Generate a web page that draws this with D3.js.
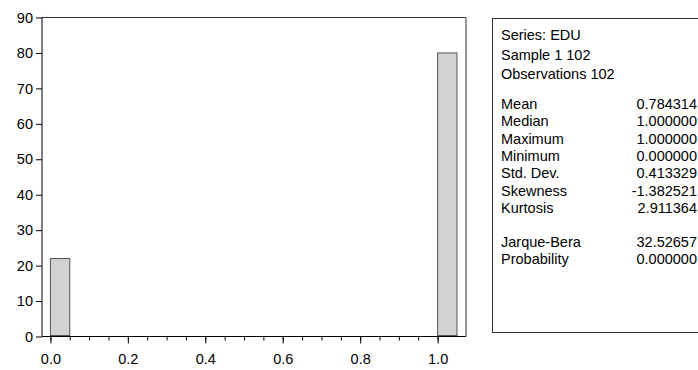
<!doctype html>
<html lang="en">

<head>
    <meta charset="UTF-8" />
    <script src="https://d3js.org/d3.v7.min.js"></script>
    <title>Histogram EDU</title>
    <style>
        body { margin: 0; background: #fff; }
        text { font-family: "Liberation Sans", Arial, sans-serif; }
    </style>
</head>

<body>
    <div id="chart"></div>
    <script type="module">
        // Histogram bins (left edge, right edge, count)
        const binStarts = [0.0, 1.0]
        const binWidth = 0.05
        const binCounts = [22, 80]

        const yTicks = [0, 10, 20, 30, 40, 50, 60, 70, 80, 90]
        const xMajorTicks = [0.0, 0.2, 0.4, 0.6, 0.8, 1.0]
        const xMinorTicks = d3.range(0, 21).map(i => i * 0.05)

        // Stats panel
        const headerLines = ["Series: EDU", "Sample 1 102", "Observations 102"]
        const statNames = ["Mean", "Median", "Maximum", "Minimum", "Std. Dev.", "Skewness", "Kurtosis"]
        const statValues = ["0.784314", "1.000000", "1.000000", "0.000000", "0.413329", "-1.382521", "2.911364"]
        const testNames = ["Jarque-Bera", "Probability"]
        const testValues = ["32.52657", "0.000000"]

        const W = 698, H = 370
        const plot = { left: 42, right: 466, top: 17.5, bottom: 336.5 }
        const fs = 14.5

        const svg = d3.select("#chart").append("svg")
            .attr("width", W)
            .attr("height", H)

        const x = d3.scaleLinear().domain([-0.0217, 1.0733]).range([plot.left, plot.right])
        const y = d3.scaleLinear().domain([0, 90]).range([plot.bottom, plot.top])

        // bars
        svg.selectAll("rect.bar")
            .data(binStarts.map((s, i) => ({ s, c: binCounts[i] })))
            .enter()
            .append("rect")
            .attr("class", "bar")
            .attr("x", d => x(d.s))
            .attr("y", d => y(d.c))
            .attr("width", d => x(d.s + binWidth) - x(d.s))
            .attr("height", d => y(0) - y(d.c) - 1)
            .attr("fill", "#d2d2d2")
            .attr("stroke", "#555")
            .attr("stroke-width", 1)

        // frame (top and right)
        svg.append("path")
            .attr("d", `M${plot.left},${plot.top}H${plot.right}V${plot.bottom}`)
            .attr("fill", "none")
            .attr("stroke", "#333")

        // y axis
        const yAxis = svg.append("g")
            .attr("transform", `translate(${plot.left},0)`)
            .call(d3.axisLeft(y).tickValues(yTicks).tickSize(6).tickPadding(3).tickFormat(d3.format("d")))
        yAxis.select(".domain").attr("stroke", "#000").attr("d", `M0,${plot.top}V${plot.bottom}`)
        yAxis.selectAll(".tick line").attr("stroke", "#000")
        yAxis.selectAll("text").attr("font-size", fs).attr("fill", "#000")
            .attr("font-family", "Liberation Sans, Arial, sans-serif")

        // x axis minor ticks
        const xMinor = svg.append("g")
            .attr("transform", `translate(0,${plot.bottom})`)
            .call(d3.axisBottom(x).tickValues(xMinorTicks).tickSize(4).tickFormat(""))
        xMinor.select(".domain").remove()
        xMinor.selectAll(".tick line").attr("stroke", "#000")

        // x axis major ticks
        const xAxis = svg.append("g")
            .attr("transform", `translate(0,${plot.bottom})`)
            .call(d3.axisBottom(x).tickValues(xMajorTicks).tickSize(7).tickPadding(10).tickFormat(d3.format(".1f")))
        xAxis.select(".domain").attr("stroke", "#000").attr("d", `M${plot.left},0H${plot.right}`)
        xAxis.selectAll(".tick line").attr("stroke", "#000")
        xAxis.selectAll("text").attr("font-size", fs).attr("fill", "#000")
            .attr("font-family", "Liberation Sans, Arial, sans-serif")

        // stats box
        svg.append("rect")
            .attr("x", 492.5)
            .attr("y", 18.5)
            .attr("width", 220)
            .attr("height", 314)
            .attr("fill", "none")
            .attr("stroke", "#333")

        const box = svg.append("g").attr("font-size", fs).attr("fill", "#000")
        const labelX = 501, valueX = 697

        box.selectAll("text.head")
            .data(headerLines)
            .enter().append("text")
            .attr("class", "head")
            .attr("x", labelX)
            .attr("y", (d, i) => 40 + i * 19.5)
            .text(d => d)

        const rows = statNames.map((n, i) => ({ n, v: statValues[i], y: 109 + i * 17.3 }))
            .concat(testNames.map((n, i) => ({ n, v: testValues[i], y: 247 + i * 17.3 })))

        box.selectAll("text.name")
            .data(rows)
            .enter().append("text")
            .attr("x", labelX)
            .attr("y", d => d.y)
            .text(d => d.n)

        box.selectAll("text.val")
            .data(rows)
            .enter().append("text")
            .attr("x", valueX)
            .attr("y", d => d.y)
            .attr("text-anchor", "end")
            .text(d => d.v)
    </script>
</body>

</html>
